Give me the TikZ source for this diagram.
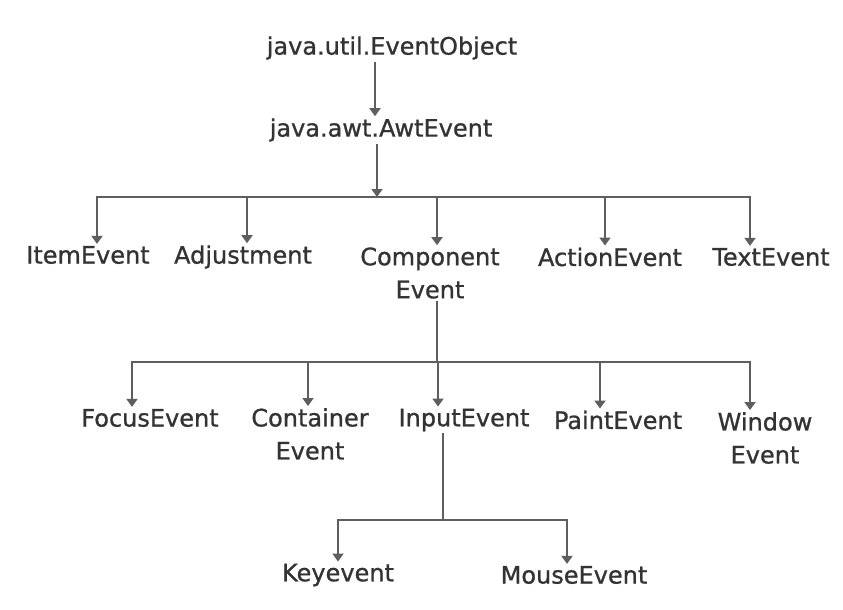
\documentclass[tikz,border=0pt]{standalone}
\usepackage{fontspec}
\setmainfont{DejaVu Sans}[FakeBold=0.9]
\usetikzlibrary{arrows.meta}
\definecolor{txt}{HTML}{333333}
\definecolor{ln}{HTML}{5E5E5E}
\tikzset{
  lbl/.style={inner sep=2pt, text=txt, font=\fontsize{24}{33}\selectfont, align=center},
  conn/.style={draw=ln, line width=1.8pt},
  arr/.style={conn, -{Triangle[width=11pt,length=8pt]}}
}
\begin{document}
\begin{tikzpicture}[x=1pt,y=-1pt]
\useasboundingbox[fill=white] (0,0) rectangle (843,610);
\node[lbl] (obj) at (392,48) {java.util.EventObject};
\node[lbl] (awt) at (381,130) {java.awt.AwtEvent};
\node[lbl] (item) at (88,255) {ItemEvent};
\node[lbl] (adj) at (243,257) {Adjustment};
\node[lbl] (comp) at (430,273) {Component\\Event};
\node[lbl] (act) at (610,257) {ActionEvent};
\node[lbl] (textev) at (771,257) {TextEvent};
\node[lbl] (focus) at (150,418) {FocusEvent};
\node[lbl] (cont) at (310,434) {Container\\Event};
\node[lbl] (input) at (464,420) {InputEvent};
\node[lbl] (paint) at (618,420) {PaintEvent};
\node[lbl] (win) at (765,438) {Window\\Event};
\node[lbl] (key) at (338,575) {Keyevent};
\node[lbl] (mouse) at (574,575) {MouseEvent};
\coordinate (bus1) at (377,197);
\coordinate (bus2) at (437,362);
\coordinate (bus3) at (443,520);
\draw[arr] ([xshift=-17pt]obj.south) -- ([xshift=-6pt]awt.north);
\draw[arr] (awt.south -| bus1) -- (bus1);
\draw[arr] (bus1) -| ([xshift=9pt]item.north);
\draw[arr] (bus1) -| ([xshift=4pt]adj.north);
\draw[arr] (bus1) -| ([xshift=7pt]comp.north);
\draw[arr] (bus1) -| ([xshift=-5pt]act.north);
\draw[arr] (bus1) -| ([xshift=-21pt]textev.north);
\draw[conn] (comp.south -| bus2) -- (bus2);
\draw[arr] (bus2) -| ([xshift=-18pt]focus.north);
\draw[arr] (bus2) -| ([xshift=-2pt]cont.north);
\draw[arr] (bus2) -| ([xshift=-26pt]input.north);
\draw[arr] (bus2) -| ([xshift=-18pt]paint.north);
\draw[arr] (bus2) -| ([xshift=-15pt]win.north);
\draw[conn] (input.south -| bus3) -- (bus3);
\draw[arr] (bus3) -| (key.north);
\draw[arr] (bus3) -| ([xshift=-7pt]mouse.north);
\end{tikzpicture}
\end{document}
